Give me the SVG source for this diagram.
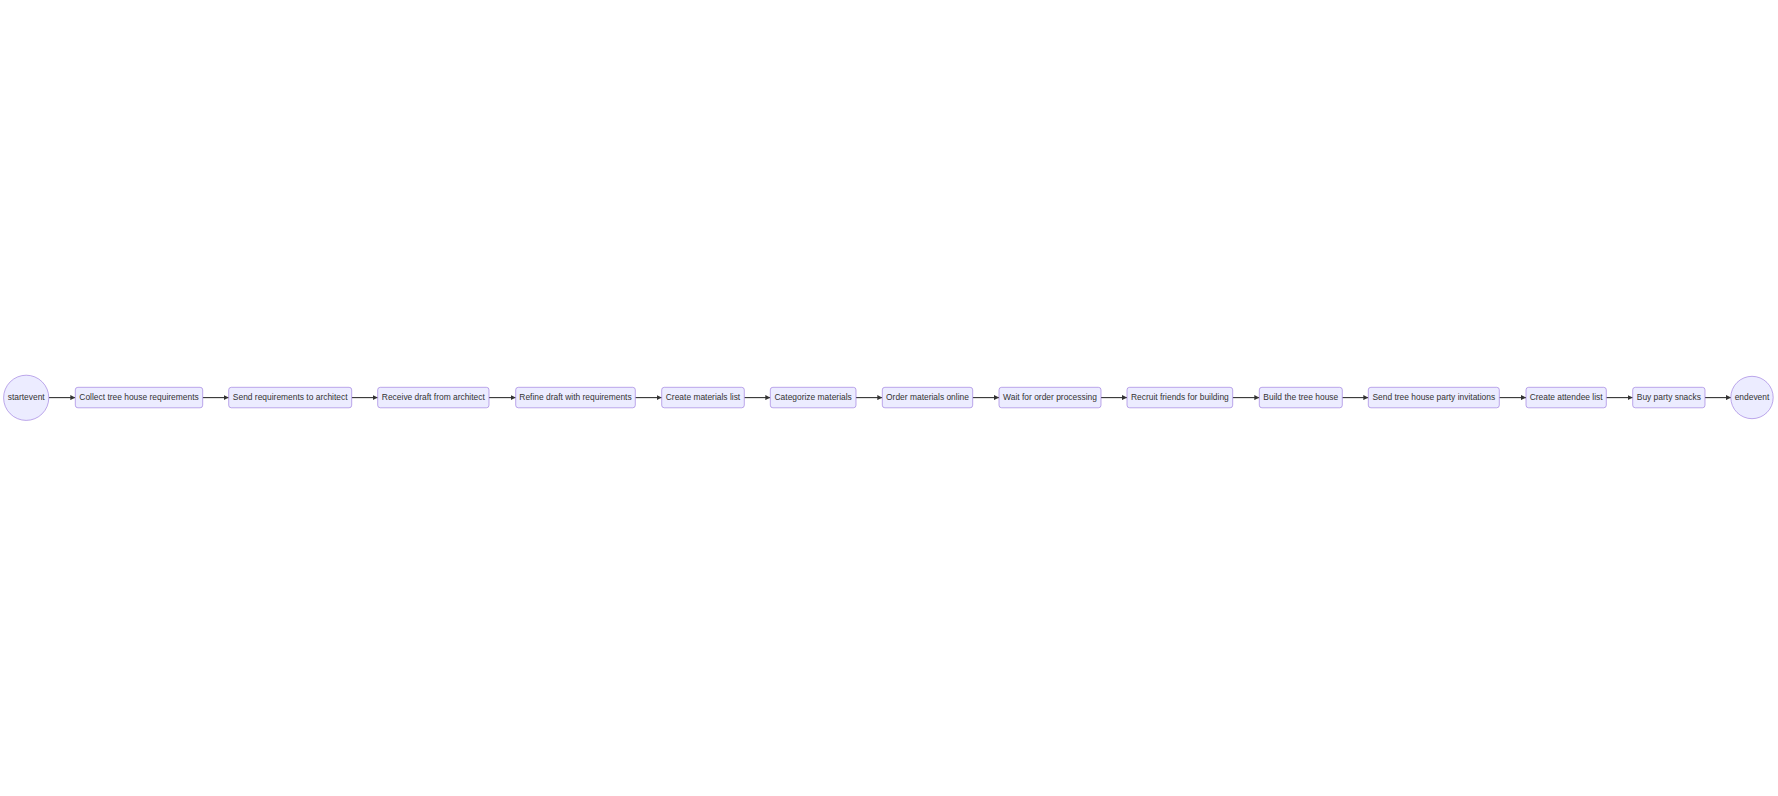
<svg xmlns="http://www.w3.org/2000/svg" width="1778" height="796" viewBox="0 0 1778 796">
<style>
.bg{fill:#ffffff}
.n rect,.n circle{fill:#ECECFF;stroke:#9370DB;stroke-width:0.6}
.n text{font-family:"Liberation Sans",Arial,sans-serif;font-size:8.43px;fill:#333333;text-anchor:middle;dominant-baseline:central}
.e line{stroke:#333333;stroke-width:1.1;fill:none;marker-end:url(#arr)}
</style>
<defs>
<marker id="arr" viewBox="0 0 10 10" refX="10" refY="5" markerUnits="userSpaceOnUse" markerWidth="5" markerHeight="5" orient="auto">
<path d="M0,0 L10,5 L0,10 z" fill="#333333"/>
</marker>
</defs>
<rect class="bg" x="0" y="0" width="1778" height="796"/>
<g id="connectors" class="e">
<line x1="48.8" y1="397.6" x2="75.3" y2="397.6"/>
<line x1="202.7" y1="397.6" x2="228.7" y2="397.6"/>
<line x1="351.7" y1="397.6" x2="377.7" y2="397.6"/>
<line x1="489" y1="397.6" x2="515.7" y2="397.6"/>
<line x1="635.3" y1="397.6" x2="661.7" y2="397.6"/>
<line x1="744.3" y1="397.6" x2="770.3" y2="397.6"/>
<line x1="856" y1="397.6" x2="882.3" y2="397.6"/>
<line x1="972.7" y1="397.6" x2="999" y2="397.6"/>
<line x1="1101" y1="397.6" x2="1127" y2="397.6"/>
<line x1="1232.7" y1="397.6" x2="1259.3" y2="397.6"/>
<line x1="1342.3" y1="397.6" x2="1368.3" y2="397.6"/>
<line x1="1499.3" y1="397.6" x2="1526" y2="397.6"/>
<line x1="1606.3" y1="397.6" x2="1632.7" y2="397.6"/>
<line x1="1705" y1="397.6" x2="1731" y2="397.6"/>
</g>
<g id="startevent" class="n"><circle cx="26.2" cy="397.8" r="22.6"/><text x="26.2" y="397.1">startevent</text></g>
<g id="n1" class="n"><rect x="75.3" y="387.3" width="127.4" height="20.5" rx="2.6"/><text x="139" y="397.0">Collect tree house requirements</text></g>
<g id="n2" class="n"><rect x="228.7" y="387.3" width="123" height="20.5" rx="2.6"/><text x="290.2" y="397.0">Send requirements to architect</text></g>
<g id="n3" class="n"><rect x="377.7" y="387.3" width="111.3" height="20.5" rx="2.6"/><text x="433.35" y="397.0">Receive draft from architect</text></g>
<g id="n4" class="n"><rect x="515.7" y="387.3" width="119.6" height="20.5" rx="2.6"/><text x="575.5" y="397.0">Refine draft with requirements</text></g>
<g id="n5" class="n"><rect x="661.7" y="387.3" width="82.6" height="20.5" rx="2.6"/><text x="703" y="397.0">Create materials list</text></g>
<g id="n6" class="n"><rect x="770.3" y="387.3" width="85.7" height="20.5" rx="2.6"/><text x="813.15" y="397.0">Categorize materials</text></g>
<g id="n7" class="n"><rect x="882.3" y="387.3" width="90.4" height="20.5" rx="2.6"/><text x="927.5" y="397.0">Order materials online</text></g>
<g id="n8" class="n"><rect x="999" y="387.3" width="102" height="20.5" rx="2.6"/><text x="1050" y="397.0">Wait for order processing</text></g>
<g id="n9" class="n"><rect x="1127" y="387.3" width="105.7" height="20.5" rx="2.6"/><text x="1179.85" y="397.0">Recruit friends for building</text></g>
<g id="n10" class="n"><rect x="1259.3" y="387.3" width="83" height="20.5" rx="2.6"/><text x="1300.8" y="397.0">Build the tree house</text></g>
<g id="n11" class="n"><rect x="1368.3" y="387.3" width="131" height="20.5" rx="2.6"/><text x="1433.8" y="397.0">Send tree house party invitations</text></g>
<g id="n12" class="n"><rect x="1526" y="387.3" width="80.3" height="20.5" rx="2.6"/><text x="1566.15" y="397.0">Create attendee list</text></g>
<g id="n13" class="n"><rect x="1632.7" y="387.3" width="72.3" height="20.5" rx="2.6"/><text x="1668.85" y="397.0">Buy party snacks</text></g>
<g id="endevent" class="n"><circle cx="1752" cy="397.5" r="21.2"/><text x="1752" y="396.9">endevent</text></g>
</svg>
